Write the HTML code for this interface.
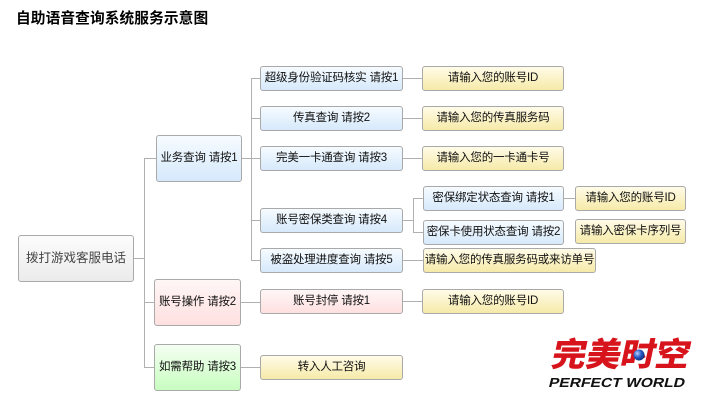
<!DOCTYPE html>
<html><head><meta charset="utf-8">
<style>
html,body{margin:0;padding:0;background:#fff;}
body{width:720px;height:407px;position:relative;overflow:hidden;font-family:"Liberation Sans","Noto Sans CJK SC",sans-serif;}
.t{position:absolute;left:16px;top:9px;font-size:14.7px;font-weight:bold;color:#000;line-height:20px;letter-spacing:0.1px;}
.b{position:absolute;box-sizing:border-box;border:1px solid #a9a9a9;border-radius:3px;text-align:center;font-size:11.5px;color:#111;white-space:nowrap;letter-spacing:-0.2px;}
.blue{background:linear-gradient(#f6fbff,#d6e9fb);}
.pink{background:linear-gradient(#fff6f6,#ffe0e0);}
.green{background:linear-gradient(#f4fff2,#c8fdc0);}
.yel{background:linear-gradient(#fffbe8,#f6eaa8);}
.gray{background:linear-gradient(#fcfcfc,#ebebeb);color:#444;font-size:12.5px;letter-spacing:0;}
svg{position:absolute;left:0;top:0;}
</style></head><body>
<div class="t">自助语音查询系统服务示意图</div>

<svg width="720" height="407" shape-rendering="crispEdges">
<g stroke="#b0b0b0" stroke-width="1" fill="none">
<path d="M134 258.5H144.5M144.5 158V367M144 158.5H156M144 302.5H154M144 367.5H154"/>
<path d="M242 158.5H251.5M251.5 78V260M251 78.5H260M251 118.5H260M251 158.5H260M251 220.5H260M251 260.5H260"/>
<path d="M403 78.5H422M403 118.5H422M403 158.5H422"/>
<path d="M403 220.5H413.5M413.5 198V232M413 198.5H423M413 232.5H423"/>
<path d="M403 260.5H423M564 198.5H575"/>
<path d="M241 302.5H260M403 301.5H422M241 367.5H260"/>
</g>
</svg>

<div class="b gray" style="left:18px;top:235px;width:116px;height:47px;line-height:45px;">拨打游戏客服电话</div>

<div class="b blue" style="left:156px;top:135px;width:86px;height:47px;line-height:45px;">业务查询 请按1</div>
<div class="b pink" style="left:154px;top:279px;width:87px;height:47px;line-height:45px;">账号操作 请按2</div>
<div class="b green" style="left:154px;top:344px;width:87px;height:47px;line-height:45px;">如需帮助 请按3</div>

<div class="b blue" style="left:260px;top:66px;width:143px;height:25px;line-height:23px;">超级身份验证码核实 请按1</div>
<div class="b blue" style="left:260px;top:106px;width:143px;height:25px;line-height:23px;">传真查询 请按2</div>
<div class="b blue" style="left:260px;top:146px;width:143px;height:25px;line-height:23px;">完美一卡通查询 请按3</div>
<div class="b blue" style="left:260px;top:208px;width:143px;height:25px;line-height:23px;">账号密保类查询 请按4</div>
<div class="b blue" style="left:260px;top:248px;width:143px;height:25px;line-height:23px;">被盗处理进度查询 请按5</div>
<div class="b pink" style="left:260px;top:289px;width:143px;height:25px;line-height:23px;">账号封停 请按1</div>
<div class="b yel" style="left:260px;top:355px;width:143px;height:25px;line-height:23px;">转入人工咨询</div>

<div class="b yel" style="left:422px;top:66px;width:142px;height:25px;line-height:23px;">请输入您的账号ID</div>
<div class="b yel" style="left:422px;top:106px;width:142px;height:25px;line-height:23px;">请输入您的传真服务码</div>
<div class="b yel" style="left:422px;top:146px;width:142px;height:25px;line-height:23px;">请输入您的一卡通卡号</div>
<div class="b blue" style="left:423px;top:186px;width:141px;height:25px;line-height:23px;">密保绑定状态查询 请按1</div>
<div class="b blue" style="left:423px;top:220px;width:141px;height:25px;line-height:23px;">密保卡使用状态查询 请按2</div>
<div class="b yel" style="left:575px;top:186px;width:111px;height:25px;line-height:23px;">请输入您的账号ID</div>
<div class="b yel" style="left:575px;top:219px;width:111px;height:25px;line-height:23px;">请输入密保卡序列号</div>
<div class="b yel" style="left:423px;top:248px;width:173px;height:25px;line-height:23px;letter-spacing:-0.2px;">请输入您的传真服务码或来访单号</div>
<div class="b yel" style="left:422px;top:289px;width:142px;height:25px;line-height:23px;">请输入您的账号ID</div>

<svg width="720" height="407">
<defs><radialGradient id="ball" cx="35%" cy="35%" r="70%"><stop offset="0" stop-color="#b8d4ff"/><stop offset="0.5" stop-color="#2c5fc8"/><stop offset="1" stop-color="#0a2a7a"/></radialGradient></defs>
<g transform="translate(550,366) skewX(-12)">
<text x="0" y="0" font-family="'Noto Sans CJK SC','WenQuanYi Zen Hei',sans-serif" font-weight="900" font-size="33" fill="#d7141c" textLength="138" lengthAdjust="spacingAndGlyphs">完美时空</text>
</g>
<circle cx="639" cy="355" r="5.5" fill="url(#ball)"/>
<g transform="translate(549,387) skewX(-14)">
<text x="-1" y="0" font-family="'Liberation Sans',sans-serif" font-weight="bold" font-size="13" fill="#111" textLength="136" lengthAdjust="spacingAndGlyphs">PERFECT WORLD</text>
</g>
</svg>
</body></html>
